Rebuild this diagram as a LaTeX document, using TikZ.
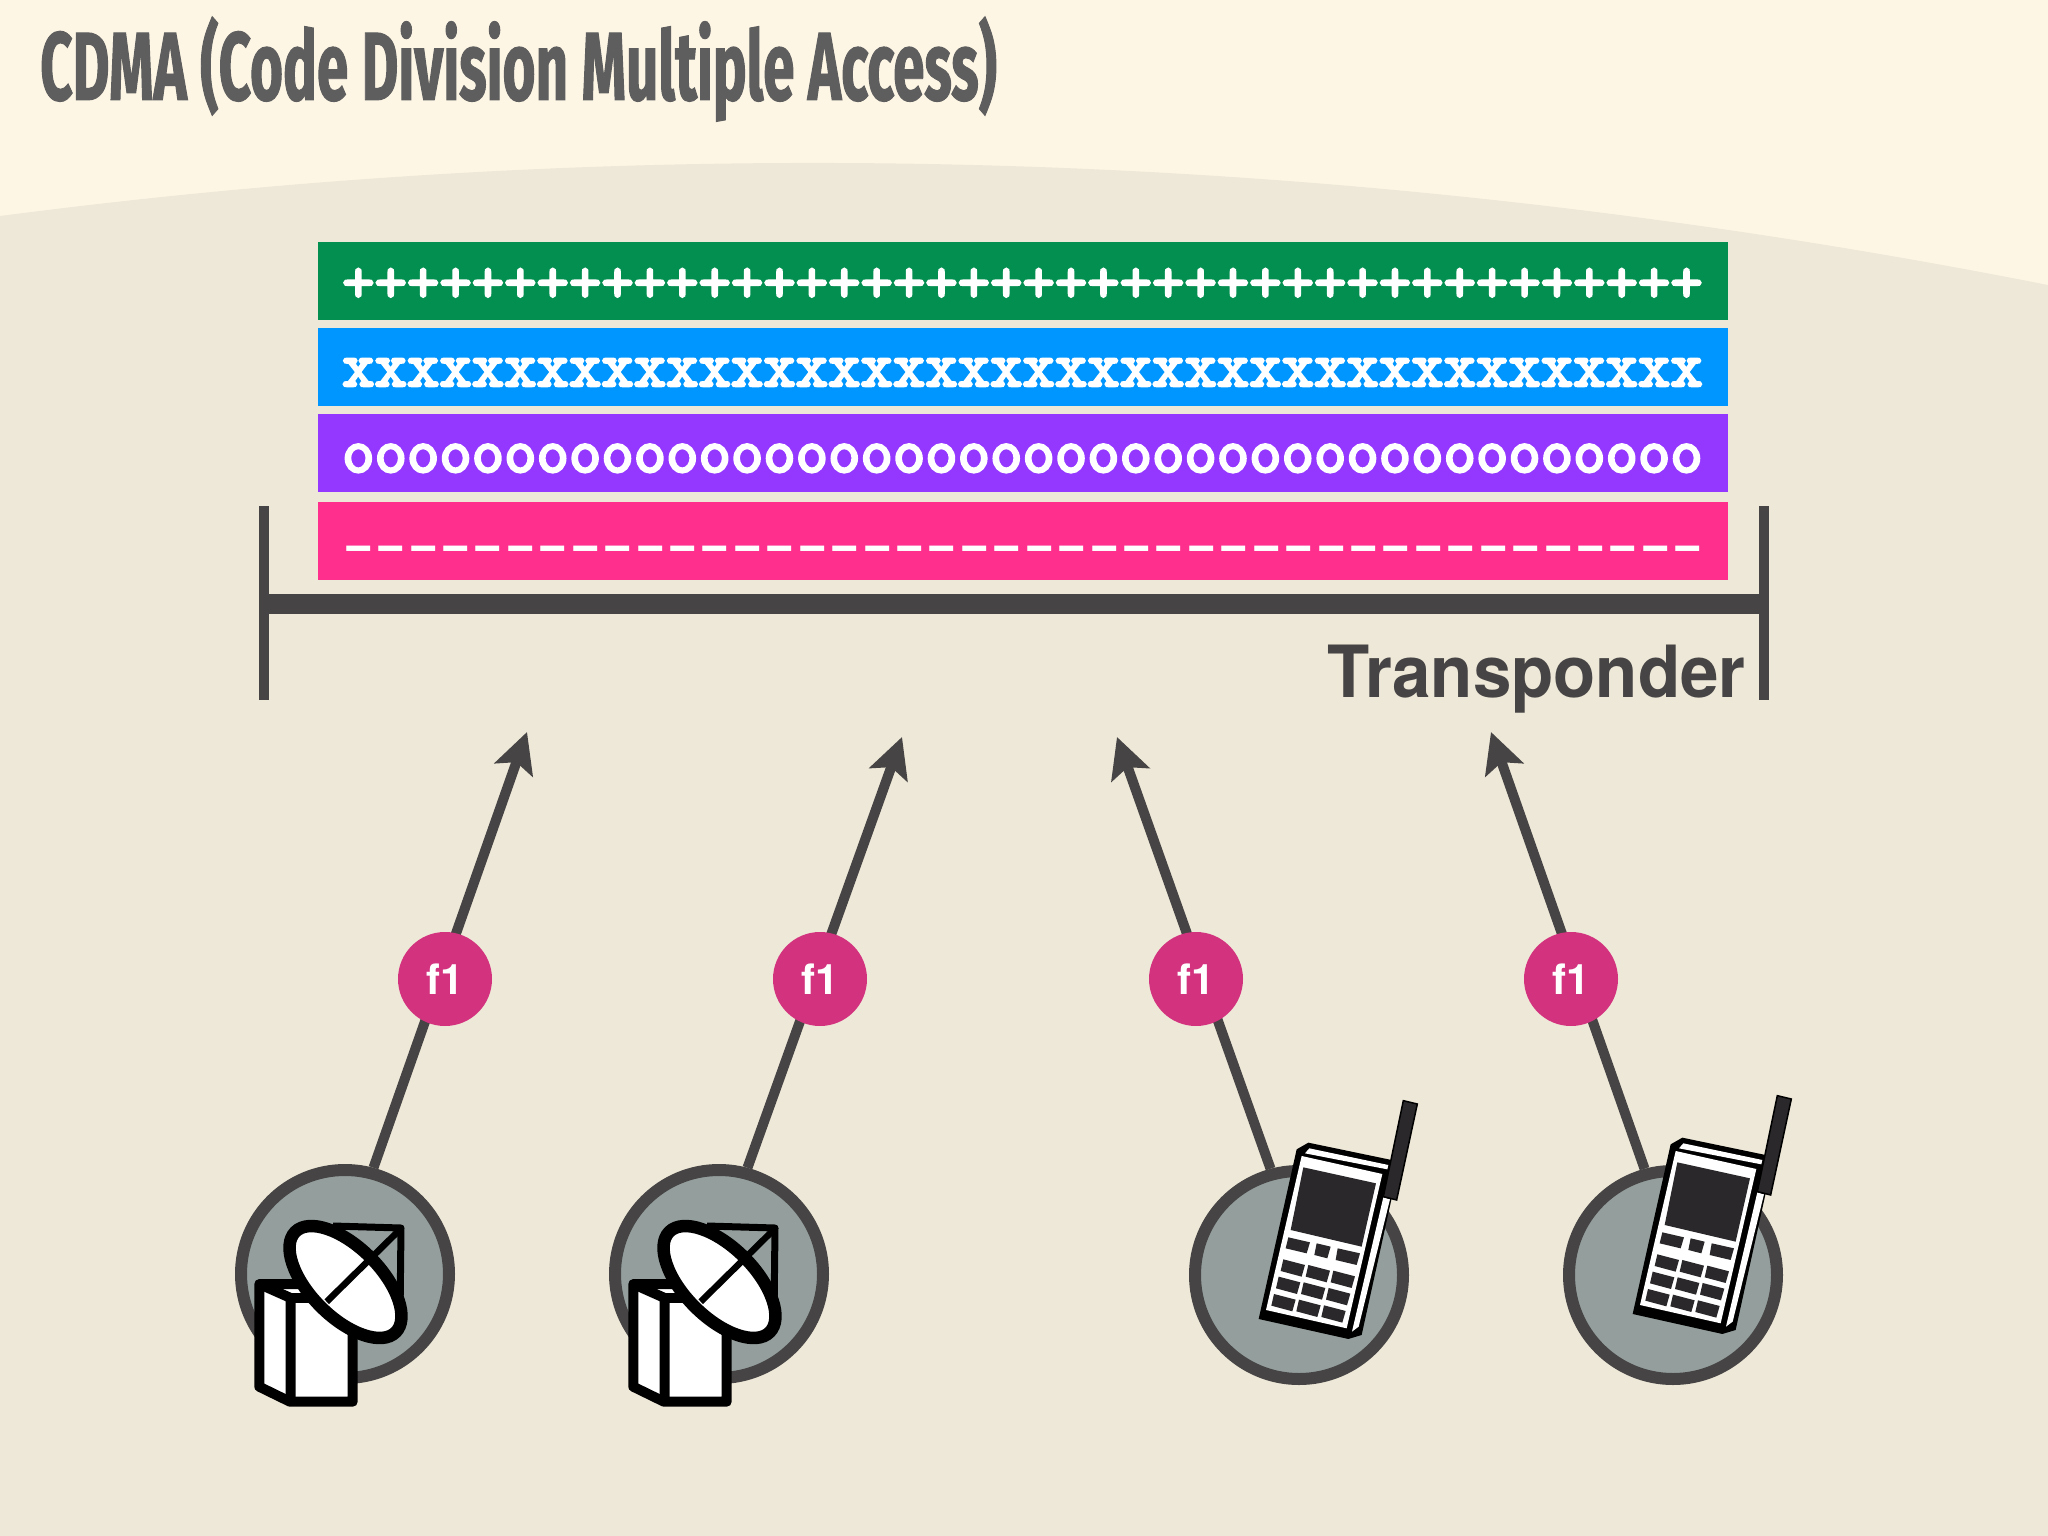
\documentclass[tikz,border=0pt]{standalone}
\usepackage{fontspec}
\usetikzlibrary{arrows.meta}
\setmainfont{TeX Gyre Heros}
\newfontfamily\titlefont[FakeStretch=0.583,FakeBold=1]{Fira Sans Bold}
\newfontfamily\codefont[FakeBold=4]{Latin Modern Mono}
\newfontfamily\dashfont{Liberation Mono}
\newfontfamily\labelfont[FakeStretch=0.96]{TeX Gyre Heros}
\definecolor{bgtop}{HTML}{FEF6E5}
\definecolor{bglow}{HTML}{EEE8D8}
\definecolor{ink}{HTML}{464444}
\definecolor{titleink}{HTML}{5E5E5E}
\definecolor{barA}{HTML}{038F50}
\definecolor{barB}{HTML}{0096FF}
\definecolor{barC}{HTML}{9437FF}
\definecolor{barD}{HTML}{FF2F8E}
\definecolor{badgec}{HTML}{D2327E}
\definecolor{disc}{HTML}{949F9D}
\definecolor{phdark}{HTML}{2A282A}
\tikzset{
  barbox/.style={rectangle,minimum width=1410pt,minimum height=78pt,inner sep=0pt,draw=none},
  codetext/.style={anchor=base west,inner sep=0pt,text=white,font=\codefont\fontsize{62.9pt}{66pt}\selectfont},
  dashtext/.style={anchor=base west,inner sep=0pt,text=white,font=\dashfont\bfseries\fontsize{54.05pt}{60pt}\selectfont},
  station/.style={circle,minimum size=208pt,inner sep=0pt,fill=disc,draw=ink,line width=12pt},
  signal/.style={draw=ink,line width=10pt,-{Stealth[length=40pt,width=40pt,inset=8pt]}},
  badge/.style={circle,minimum size=94pt,inner sep=0pt,fill=badgec,text=white,font=\bfseries\fontsize{42pt}{46pt}\selectfont},
  rail/.style={draw=ink,line width=10pt},
  iconline/.style={draw=black,line join=round,line width=10pt},
}
\newcommand{\dishicon}[2]{%
\begin{scope}[shift={(#1,#2)}]
  \fill[white,draw=black,line width=10pt,line join=round] (259.3,1284)--(320,1284)--(352.7,1298)--(352.7,1401.7)--(290,1401.7)--(259.3,1386.7)--cycle;
  \draw[iconline] (259.3,1284)--(290.7,1298)--(290.7,1401.7);
  \draw[iconline] (290.7,1298)--(352.7,1298);
  \draw[black,line width=7pt,line join=round] (333,1226)--(401,1228)--(400,1317);
  \draw[white,fill=white,draw=black,line width=12.5pt,rotate around={-45:(345.5,1282)}] (345.5,1282) ellipse [x radius=71pt,y radius=35pt];
  \draw[black,line width=6.5pt] (326.7,1301.7)--(401,1228.5);
\end{scope}}
\newcommand{\phoneicon}[2]{%
\begin{scope}[shift={(#1,#2)},x=0.3333pt,y=-0.3333pt]
  \fill[black,line join=round] (415,188)--(665,240)--(665,355)--(575,765)--(535,777)--(266,717)--(380,208)--cycle;
  \fill[white] (395,228)--(637,282)--(530,745)--(288,690)--cycle;
  \fill[white] (418,205)--(655,255)--(652,268)--(405,220)--cycle;
  \fill[white] (640,352)--(660,358)--(566,740)--(546,755)--cycle;
  \fill[phdark] (400,262)--(618,310)--(575,500)--(362,450)--cycle;
  \fill[phdark,draw=black,line width=1.5pt] (700,62)--(742,72)--(680,360)--(640,350)--cycle;
  \fill[phdark] (355,472)--(420,487)--(410,520)--(347,505)--cycle;
  \fill[phdark] (440,490)--(482,500)--(472,535)--(433,525)--cycle;
  \fill[phdark] (503,505)--(570,520)--(560,555)--(497,540)--cycle;
  \foreach \r in {0,1,2}{\foreach \c in {0,1,2}{
    \fill[phdark,shift={({75*\c-14*\r},{17*\c+52*\r})}] (340,538)--(405,555)--(395,590)--(332,573)--cycle;
  }}
\end{scope}}
\begin{document}
\begin{tikzpicture}[x=1pt,y=-1pt]
\useasboundingbox (0,0) rectangle (2048,1536);
\fill[bgtop] (0,0) rectangle (2048,1536);
\fill[bglow] (0,216) .. controls (682.7,127) and (1365.3,150) .. (2048,285) -- (2048,1536) -- (0,1536) -- cycle;
\node[anchor=base west,inner sep=0pt,text=titleink,font=\titlefont\fontsize{97pt}{110pt}\selectfont] (title) at (40,100) {CDMA (Code Division Multiple Access)};
% bars
\node[barbox,fill=barA] (green) at (1023,281) {};
\node[barbox,fill=barB] (blue) at (1023,367) {};
\node[barbox,fill=barC] (purple) at (1023,453) {};
\node[barbox,fill=barD] (pink) at (1023,541) {};
\node[codetext] (plus) at (342,302) {++++++++++++++++++++++++++++++++++++++++++};
\node[codetext] (cross) at (342,386) {xxxxxxxxxxxxxxxxxxxxxxxxxxxxxxxxxxxxxxxxxx};
\node[codetext] (oh) at (342,472) {oooooooooooooooooooooooooooooooooooooooooo};
\node[dashtext] (dash) at (342,562) {––––––––––––––––––––––––––––––––––––––––––};
% transponder bracket
\draw[rail] (264,506)--(264,700);
\draw[rail] (1764,506)--(1764,700);
\draw[draw=ink,line width=20pt] (264,604)--(1764,604);
\node[anchor=base east,inner sep=0pt,text=ink,font=\labelfont\bfseries\fontsize{72pt}{80pt}\selectfont] (transponder) at (1746,697) {Transponder};
% stations
\node[station] (s1) at (345,1274) {};
\node[station] (s2) at (719,1274) {};
\node[station] (s3) at (1299,1275) {};
\node[station] (s4) at (1673,1275) {};
\coordinate (t1) at (527,732);
\coordinate (t2) at (902,737);
\coordinate (t3) at (1117,737);
\coordinate (t4) at (1491,732);
\draw[signal] (s1.75) -- (t1);
\draw[signal] (s2.75) -- (t2);
\draw[signal] (s3.105) -- (t3);
\draw[signal] (s4.105) -- (t4);
\node[badge] (b1) at (445,979) {f1};
\node[badge] (b2) at (820,979) {f1};
\node[badge] (b3) at (1196,979) {f1};
\node[badge] (b4) at (1571,979) {f1};
\dishicon{0}{0}
\dishicon{374}{0}
\phoneicon{1170}{1080}
\phoneicon{1544}{1075}
\end{tikzpicture}
\end{document}
